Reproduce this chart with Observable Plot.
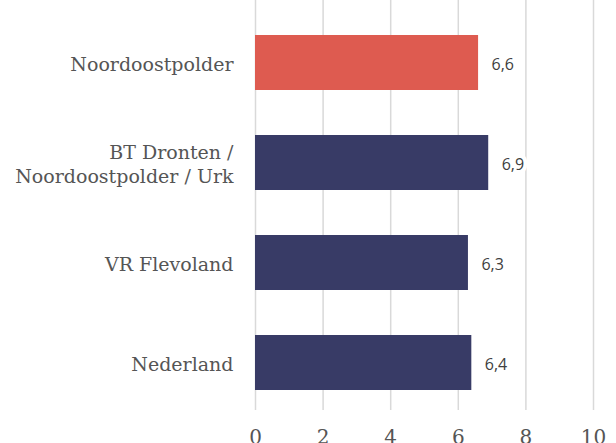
<!DOCTYPE html>
<html><head><meta charset="utf-8">
<script src="https://cdn.jsdelivr.net/npm/d3@7"></script>
<script src="https://cdn.jsdelivr.net/npm/@observablehq/plot@0.6"></script>
<style>body{margin:0;background:#fff;}</style>
</head><body><div id="chart"></div>
<script>
const categories = ["Noordoostpolder", "BT Dronten /\nNoordoostpolder / Urk", "VR Flevoland", "Nederland"];
const values = [6.6, 6.9, 6.3, 6.4];
const labels = ["6,6", "6,9", "6,3", "6,4"];
const highlight = ["Noordoostpolder"];
const xTicks = [0, 2, 4, 6, 8, 10];

const data = categories.map((c, i) => ({cat: c, value: values[i], label: labels[i], hl: highlight.includes(c)}));

const chart = Plot.plot({
  width: 616, height: 443,
  marginLeft: 255, marginRight: 23, marginTop: 0, marginBottom: 33,
  style: {fontFamily: "DejaVu Serif", background: "#fff"},
  x: {domain: [0, 10], ticks: xTicks, label: null},
  y: {domain: categories, range: [12, 412], paddingInner: 0.45, paddingOuter: 0.225, label: null},
  marks: [
    Plot.gridX(xTicks, {stroke: "#d9d9d9", strokeOpacity: 1, strokeWidth: 1.5}),
    Plot.barX(data, {x: "value", y: "cat", fill: d => d.hl ? "#de5b50" : "#383b66"}),
    Plot.text(data, {x: "value", y: "cat", text: "label", textAnchor: "start", dx: 13, dy: 2, fontFamily: "Open Sans", fontSize: 16, fill: "#404040", stroke: "white", strokeWidth: 8}),
    Plot.axisX({ticks: xTicks, tickSize: 0, tickPadding: 19, fontSize: 20, fill: "#555", label: null}),
    Plot.axisY({tickSize: 0, tickPadding: 22, fontSize: 19, fill: "#555", lineHeight: 1.3, label: null})
  ]
});
document.getElementById("chart").append(chart);
</script>
</body></html>
